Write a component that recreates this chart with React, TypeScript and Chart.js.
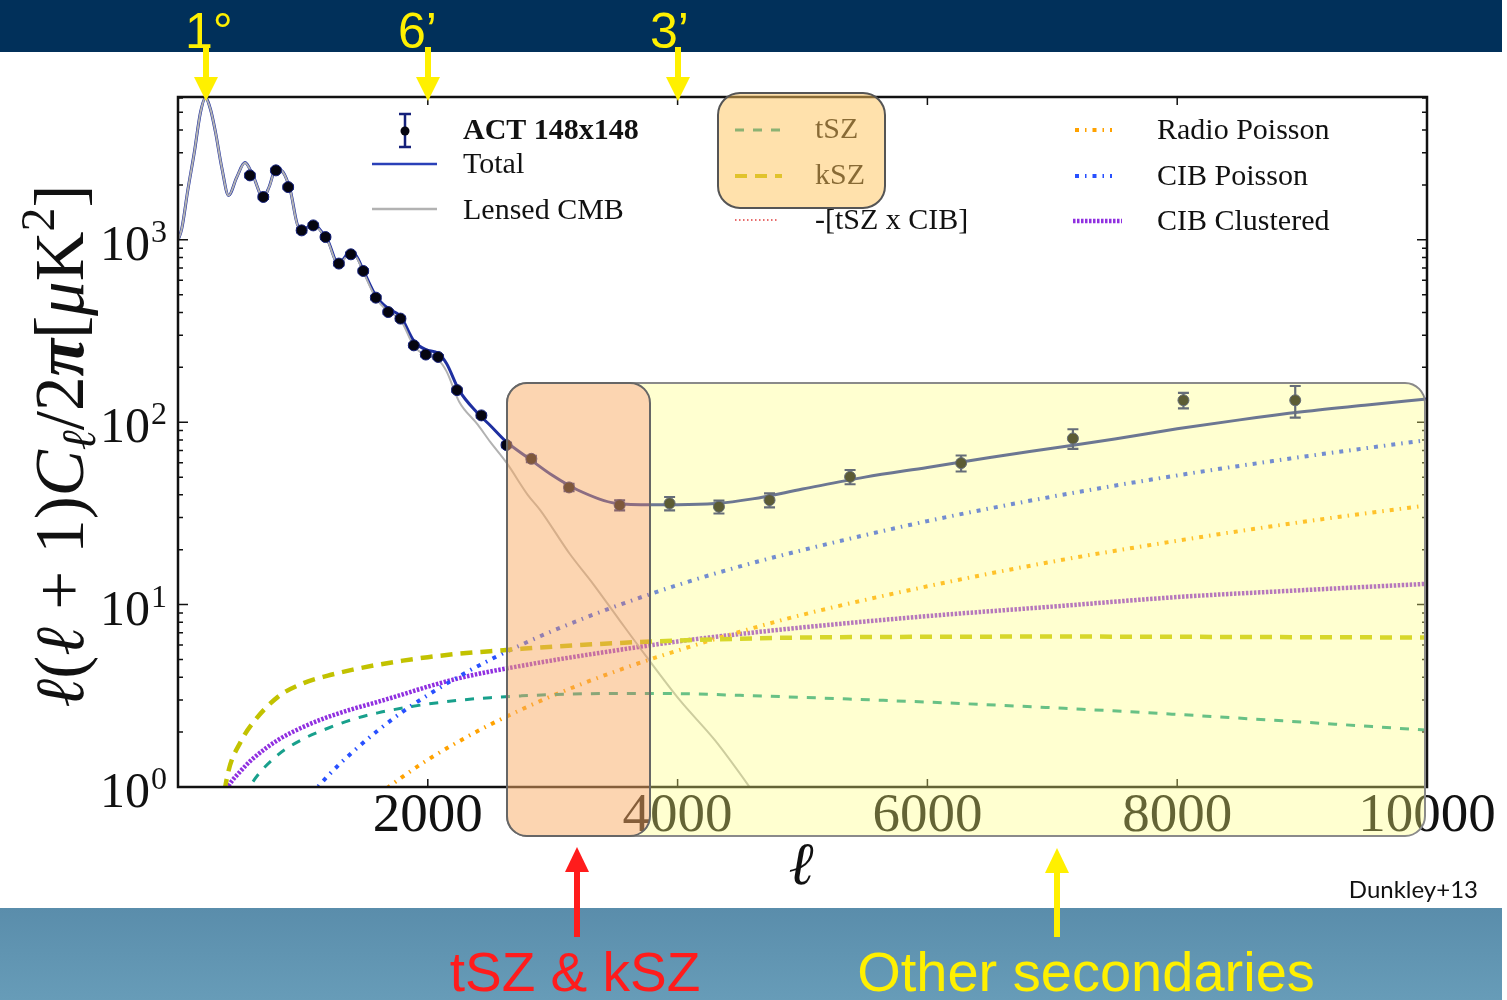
import React, { useEffect, useRef } from 'react';
import { Chart, registerables } from 'chart.js';

Chart.register(...registerables);

const W = 1507;
const H = 1000;

// ---------------- data ----------------
// ACT 148x148 band powers
const actEll = [576, 683, 784, 882, 990, 1083, 1181, 1288, 1384, 1483, 1584, 1683, 1781, 1888, 1984, 2083, 2234, 2429, 2630, 2829, 3131, 3536, 3936, 4331, 4736, 5381, 6270, 7165, 8050, 8945];
const actVal = [2256, 1718, 2404, 1947, 1127, 1200, 1036, 741, 833, 675, 482, 402, 370, 264, 235, 228, 150, 109, 75, 63, 43.9, 35.1, 35.9, 34.4, 37.4, 50.2, 59.7, 81.5, 132, 132];
const actErr = [55, 40, 55, 45, 28, 28, 24, 17, 19, 15, 11, 9, 8, 6, 5.5, 5.5, 3.5, 2.6, 2.0, 2.5, 2.0, 2.2, 3.0, 2.8, 3.3, 4.5, 6, 10, 13, 26];

// Lensed CMB
const cmbEll = [2, 30, 80, 130, 180, 220, 260, 300, 350, 405, 470, 536, 600, 683, 730, 784, 840, 900, 963, 1020, 1083, 1140, 1200, 1283, 1384, 1430, 1483, 1584, 1683, 1781, 1888, 1984, 2083, 2150, 2250, 2400, 2500, 2630, 2800, 2900, 3136, 3323, 3536, 3749, 4016, 4300, 4576, 4800];
const cmbVal = [1000, 1150, 1900, 3000, 5000, 6000, 5200, 3900, 2500, 1750, 2200, 2650, 2250, 1700, 1950, 2450, 2350, 1850, 1180, 1150, 1220, 1120, 980, 730, 850, 800, 670, 480, 405, 365, 262, 232, 220, 190, 130, 97, 78, 60, 40, 33, 19, 13, 8.2, 5.2, 3.0, 1.8, 1.0, 0.6];

// Total model
const totEll = [2, 30, 80, 130, 180, 220, 260, 300, 350, 405, 470, 536, 600, 683, 730, 784, 840, 900, 963, 1020, 1083, 1140, 1200, 1283, 1384, 1430, 1483, 1584, 1683, 1781, 1888, 1984, 2083, 2150, 2250, 2400, 2500, 2630, 2800, 3000, 3200, 3500, 3800, 4000, 4300, 4600, 5000, 5500, 6000, 6500, 7000, 7500, 8000, 8500, 9000, 9500, 10000];
const totVal = [1000, 1150, 1900, 3000, 5000, 6000, 5200, 3900, 2500, 1752, 2202, 2653, 2253, 1704, 1955, 2456, 2356, 1857, 1188, 1158, 1229, 1130, 990, 741, 862, 812, 683, 494, 420, 381, 279, 250, 239, 210, 150, 112, 96, 78, 64, 51, 42.5, 36, 35.3, 35.3, 35.8, 38, 43, 50, 56.5, 64, 72, 81, 92, 103, 114, 124, 134];

// Secondary components
const fgEll = [300, 400, 500, 600, 800, 1000, 1200, 1400, 1600, 1800, 2000, 2250, 2500, 2750, 3000, 3500, 4000, 4500, 5000, 6000, 7000, 8000, 9000, 10000];
const tszVal = [0.3, 0.5, 0.8, 1.07, 1.5, 1.83, 2.1, 2.35, 2.55, 2.71, 2.85, 2.99, 3.09, 3.16, 3.21, 3.26, 3.25, 3.18, 3.1, 2.92, 2.72, 2.5, 2.27, 2.05];
const kszVal = [0.45, 1.19, 1.76, 2.25, 3.12, 3.7, 4.08, 4.4, 4.68, 4.93, 5.15, 5.38, 5.55, 5.72, 5.88, 6.15, 6.35, 6.5, 6.6, 6.66, 6.68, 6.66, 6.63, 6.6];
const szCibVal = [0.05, 0.08, 0.12, 0.16, 0.22, 0.28, 0.33, 0.38, 0.42, 0.46, 0.5, 0.54, 0.57, 0.6, 0.62, 0.66, 0.68, 0.7, 0.71, 0.72, 0.72, 0.71, 0.7, 0.69];
const radioVal = [0.03, 0.055, 0.086, 0.124, 0.22, 0.35, 0.5, 0.68, 0.9, 1.14, 1.41, 1.78, 2.2, 2.66, 3.17, 4.3, 5.6, 7.1, 8.8, 12.6, 17.2, 22.4, 28.4, 35];
const cibPVal = [0.07, 0.13, 0.2, 0.29, 0.51, 0.8, 1.15, 1.56, 2.04, 2.59, 3.19, 4.04, 4.99, 6.03, 7.18, 9.77, 12.8, 16.2, 19.9, 28.7, 39.1, 51.1, 64.6, 79.8];
const cibCVal = [0.7, 1.0, 1.22, 1.43, 1.81, 2.13, 2.42, 2.68, 2.93, 3.22, 3.55, 3.95, 4.3, 4.62, 4.95, 5.6, 6.28, 6.9, 7.5, 8.65, 9.75, 11.0, 12.0, 13.0];

// axes
const xTicks = [2000, 4000, 6000, 8000, 10000];
const yTicks = [1, 10, 100, 1000];
const yTickExp = ['0', '1', '2', '3'];
const X_MIN = 0;
const X_MAX = 10000;
const Y_MIN = 1;
const Y_MAX = 6070;

// labels
const angleLabels = ['1°', '6’', '3’'];
const noteLabels = ['tSZ & kSZ', 'Other secondaries'];
const creditLabel = 'Dunkley+13';

// ---------------- styles ----------------
const C_TOTAL = '#1e2fa0';
const C_CMB = '#b2b2b2';
const C_TSZ = '#18a08c';
const C_KSZ = '#c2c200';
const C_SZCIB = '#e03c3c';
const C_RADIO = '#ffa200';
const C_CIBP = '#2850ff';
const C_CIBC = '#9030e0';
const DASH_TSZ = [9, 9];
const DASH_KSZ = [12, 8];
const DASH_SZCIB = [1.5, 2.5];
const DASH_PDOT = [4, 6, 1.5, 6];
const DASH_CIBC = [2.5, 1.5];

const SERIF = '"Liberation Serif", "Times New Roman", serif';
const SANS = '"Liberation Sans", Arial, sans-serif';

const pts = (xs: number[], ys: number[]) => xs.map((x, i) => ({ x, y: ys[i] }));

function rrPath(ctx: CanvasRenderingContext2D, x: number, y: number, w: number, h: number, r: number) {
  ctx.moveTo(x + r, y);
  ctx.lineTo(x + w - r, y);
  ctx.arcTo(x + w, y, x + w, y + r, r);
  ctx.lineTo(x + w, y + h - r);
  ctx.arcTo(x + w, y + h, x + w - r, y + h, r);
  ctx.lineTo(x + r, y + h);
  ctx.arcTo(x, y + h, x, y + h - r, r);
  ctx.lineTo(x, y + r);
  ctx.arcTo(x, y, x + r, y, r);
  ctx.closePath();
}

function sample(ctx: CanvasRenderingContext2D, x1: number, x2: number, y: number, color: string, width: number, dash: number[]) {
  ctx.save();
  ctx.strokeStyle = color;
  ctx.lineWidth = width;
  ctx.setLineDash(dash);
  ctx.lineCap = 'butt';
  ctx.beginPath();
  ctx.moveTo(x1, y);
  ctx.lineTo(x2, y);
  ctx.stroke();
  ctx.restore();
}

function text(ctx: CanvasRenderingContext2D, t: string, x: number, y: number, font: string, color: string, align: CanvasTextAlign = 'left', baseline: CanvasTextBaseline = 'alphabetic') {
  ctx.font = font;
  ctx.fillStyle = color;
  ctx.textAlign = align;
  ctx.textBaseline = baseline;
  ctx.fillText(t, x, y);
}

function downArrow(ctx: CanvasRenderingContext2D, x: number, y0: number, tip: number, color: string) {
  ctx.fillStyle = color;
  ctx.fillRect(x - 3, y0, 6, tip - 22 - y0);
  ctx.beginPath();
  ctx.moveTo(x - 12, tip - 24);
  ctx.lineTo(x + 12, tip - 24);
  ctx.lineTo(x, tip);
  ctx.closePath();
  ctx.fill();
}

function upArrow(ctx: CanvasRenderingContext2D, x: number, tip: number, y1: number, color: string) {
  ctx.fillStyle = color;
  ctx.fillRect(x - 3, tip + 22, 6, y1 - tip - 22);
  ctx.beginPath();
  ctx.moveTo(x - 12, tip + 25);
  ctx.lineTo(x + 12, tip + 25);
  ctx.lineTo(x, tip);
  ctx.closePath();
  ctx.fill();
}

const slidePlugin = {
  id: 'slide',
  beforeDraw(chart: any) {
    const ctx = chart.ctx as CanvasRenderingContext2D;
    ctx.save();
    ctx.fillStyle = '#ffffff';
    ctx.fillRect(0, 0, W, H);
    ctx.fillStyle = '#01305a';
    ctx.fillRect(0, 0, 1502, 52);
    const g = ctx.createLinearGradient(0, 908, 0, 1000);
    g.addColorStop(0, '#5a8dab');
    g.addColorStop(1, '#679cb8');
    ctx.fillStyle = g;
    ctx.fillRect(0, 908, 1502, 92);
    ctx.restore();
  },
  beforeDatasetDraw(chart: any, args: any) {
    if (chart.data.datasets[args.index].label !== 'ACT 148x148') return;
    const ctx = chart.ctx as CanvasRenderingContext2D;
    const xs = chart.scales.x, ys = chart.scales.y;
    ctx.save();
    ctx.strokeStyle = '#14207a';
    ctx.lineWidth = 2.2;
    actEll.forEach((l, i) => {
      const px = xs.getPixelForValue(l);
      const pHi = ys.getPixelForValue(actVal[i] + actErr[i]);
      const pLo = ys.getPixelForValue(actVal[i] - actErr[i]);
      ctx.beginPath();
      ctx.moveTo(px, pHi); ctx.lineTo(px, pLo);
      ctx.moveTo(px - 5.5, pHi); ctx.lineTo(px + 5.5, pHi);
      ctx.moveTo(px - 5.5, pLo); ctx.lineTo(px + 5.5, pLo);
      ctx.stroke();
    });
    ctx.restore();
  },
  afterDraw(chart: any) {
    const ctx = chart.ctx as CanvasRenderingContext2D;
    const { left, right, top, bottom } = chart.chartArea;
    const xs = chart.scales.x, ys = chart.scales.y;
    ctx.save();

    // inward ticks
    ctx.strokeStyle = '#111';
    ctx.lineWidth = 1.5;
    ctx.beginPath();
    xTicks.forEach((v) => {
      const px = xs.getPixelForValue(v);
      ctx.moveTo(px, bottom); ctx.lineTo(px, bottom - 8);
      ctx.moveTo(px, top); ctx.lineTo(px, top + 8);
    });
    for (let k = 0; k < 4; k++) {
      for (let m = 1; m < 10; m++) {
        const v = m * Math.pow(10, k);
        if (v > Y_MAX) break;
        const py = ys.getPixelForValue(v);
        const len = m === 1 ? 10 : 5;
        ctx.moveTo(left, py); ctx.lineTo(left + len, py);
        ctx.moveTo(right, py); ctx.lineTo(right - len, py);
      }
    }
    ctx.stroke();
    ctx.lineWidth = 2.5;
    ctx.strokeRect(left, top, right - left, bottom - top);

    // y tick labels (10^n)
    yTicks.forEach((v, i) => {
      const py = ys.getPixelForValue(v);
      text(ctx, '10', 150, py + 20, `50px ${SERIF}`, '#111', 'right');
      text(ctx, yTickExp[i], 151, py + 2, `32px ${SERIF}`, '#111', 'left');
    });

    // x title
    text(ctx, 'ℓ', 801, 884, `italic 60px ${SERIF}`, '#111', 'center');

    // y title
    const S = 69;
    const segs: [string, string, number][] = [
      ['ℓ', `italic ${S}px ${SERIF}`, 0],
      ['(', `${S}px ${SERIF}`, 0],
      ['ℓ', `italic ${S}px ${SERIF}`, 0],
      [' + ', `${S}px ${SERIF}`, 0],
      ['1)', `${S}px ${SERIF}`, 0],
      ['C', `italic ${S}px ${SERIF}`, 0],
      ['ℓ', `italic ${Math.round(S * 0.7)}px ${SERIF}`, S * 0.18],
      ['/2', `${S}px ${SERIF}`, 0],
      ['π', `bold italic ${S}px ${SERIF}`, 0],
      ['[', `${S}px ${SERIF}`, 0],
      ['μ', `italic ${S}px ${SERIF}`, 0],
      ['K', `${S}px ${SERIF}`, 0],
      ['2', `${Math.round(S * 0.7)}px ${SERIF}`, -S * 0.42],
      [']', `${S}px ${SERIF}`, 0],
    ];
    ctx.save();
    ctx.translate(83, 446);
    ctx.rotate(-Math.PI / 2);
    let total = 0;
    segs.forEach(([t, f]) => { ctx.font = f; total += ctx.measureText(t).width; });
    let cx = -total / 2;
    ctx.fillStyle = '#111';
    ctx.textAlign = 'left';
    ctx.textBaseline = 'alphabetic';
    segs.forEach(([t, f, dy]) => { ctx.font = f; ctx.fillText(t, cx, dy); cx += ctx.measureText(t).width; });
    ctx.restore();

    // legend
    const LF = `30px ${SERIF}`;
    ctx.strokeStyle = '#14207a';
    ctx.lineWidth = 2.5;
    ctx.beginPath();
    ctx.moveTo(405, 114); ctx.lineTo(405, 147);
    ctx.moveTo(399, 114); ctx.lineTo(411, 114);
    ctx.moveTo(399, 147); ctx.lineTo(411, 147);
    ctx.stroke();
    ctx.fillStyle = '#050510';
    ctx.beginPath(); ctx.arc(405, 131, 4.5, 0, Math.PI * 2); ctx.fill();
    text(ctx, 'ACT 148x148', 463, 131, `bold 30px ${SERIF}`, '#111', 'left', 'middle');
    sample(ctx, 372, 437, 164, '#2a40b8', 2.5, []);
    text(ctx, 'Total', 463, 165, LF, '#111', 'left', 'middle');
    sample(ctx, 372, 437, 209, C_CMB, 2.5, []);
    text(ctx, 'Lensed CMB', 463, 211, LF, '#111', 'left', 'middle');
    sample(ctx, 735, 782, 130, C_TSZ, 3, DASH_TSZ);
    text(ctx, 'tSZ', 815, 130, LF, '#111', 'left', 'middle');
    sample(ctx, 735, 782, 176, C_KSZ, 4, DASH_KSZ);
    text(ctx, 'kSZ', 815, 176, LF, '#111', 'left', 'middle');
    sample(ctx, 735, 778, 220, C_SZCIB, 1.5, DASH_SZCIB);
    text(ctx, '-[tSZ x CIB]', 815, 221, LF, '#111', 'left', 'middle');
    sample(ctx, 1075, 1112, 130, C_RADIO, 4, DASH_PDOT);
    text(ctx, 'Radio Poisson', 1157, 131, LF, '#111', 'left', 'middle');
    sample(ctx, 1075, 1112, 176, C_CIBP, 4, DASH_PDOT);
    text(ctx, 'CIB Poisson', 1157, 177, LF, '#111', 'left', 'middle');
    sample(ctx, 1073, 1122, 221, C_CIBC, 4.5, DASH_CIBC);
    text(ctx, 'CIB Clustered', 1157, 222, LF, '#111', 'left', 'middle');

    // highlight overlays
    const ob = { x: 507, y: 383, w: 143, h: 453, r: 20 };
    const yb = { x: 507, y: 383, w: 918, h: 453, r: 20 };
    ctx.save();
    ctx.beginPath();
    ctx.rect(0, 0, W, H);
    rrPath(ctx, ob.x, ob.y, ob.w, ob.h, ob.r);
    ctx.clip('evenodd');
    ctx.beginPath();
    rrPath(ctx, yb.x, yb.y, yb.w, yb.h, yb.r);
    ctx.fillStyle = 'rgba(255,255,120,0.35)';
    ctx.fill();
    ctx.strokeStyle = '#8a8a8a';
    ctx.lineWidth = 2;
    ctx.stroke();
    ctx.restore();
    ctx.beginPath();
    rrPath(ctx, ob.x, ob.y, ob.w, ob.h, ob.r);
    ctx.fillStyle = 'rgba(250,172,100,0.5)';
    ctx.fill();
    ctx.strokeStyle = '#666';
    ctx.lineWidth = 2;
    ctx.stroke();
    ctx.beginPath();
    rrPath(ctx, 718, 93, 167, 115, 22);
    ctx.fillStyle = 'rgba(255,196,90,0.5)';
    ctx.fill();
    ctx.strokeStyle = '#555';
    ctx.lineWidth = 2;
    ctx.stroke();

    // annotations
    const YEL = '#fff000';
    const RED = '#ff1c1c';
    [206, 428, 678].forEach((x) => downArrow(ctx, x, 47, 101, YEL));
    text(ctx, angleLabels[0], 185, 48, `50px ${SANS}`, YEL);
    text(ctx, angleLabels[1], 398, 48, `50px ${SANS}`, YEL);
    text(ctx, angleLabels[2], 650, 48, `50px ${SANS}`, YEL);
    upArrow(ctx, 577, 847, 937, RED);
    upArrow(ctx, 1057, 848, 937, YEL);
    text(ctx, noteLabels[0], 575, 991, `55px ${SANS}`, RED, 'center');
    text(ctx, noteLabels[1], 1086, 991, `56px ${SANS}`, YEL, 'center');
    text(ctx, creditLabel, 1478, 898, `24px Lato, ${SANS}`, '#111', 'right');

    ctx.restore();
  },
};

export default function App() {
  const ref = useRef<HTMLCanvasElement>(null);
  useEffect(() => {
    const line = (label: string, xs: number[], ys: number[], color: string, width: number, dash: number[], order: number) => ({
      label,
      data: pts(xs, ys),
      showLine: true,
      borderColor: color,
      backgroundColor: color,
      borderWidth: width,
      borderDash: dash,
      borderCapStyle: 'butt',
      pointRadius: 0,
      cubicInterpolationMode: 'monotone',
      fill: false,
      order,
    });
    const chart = new Chart(ref.current as HTMLCanvasElement, {
      type: 'scatter',
      data: {
        datasets: [
          {
            label: 'ACT 148x148',
            data: pts(actEll, actVal),
            showLine: false,
            pointRadius: 5.5,
            pointBackgroundColor: '#050510',
            pointBorderColor: '#14207a',
            pointBorderWidth: 1,
            order: 0,
          } as any,
          line('Lensed CMB', cmbEll, cmbVal, C_CMB, 2, [], 1),
          line('Total', totEll, totVal, C_TOTAL, 3, [], 2),
          line('tSZ', fgEll, tszVal, C_TSZ, 3, DASH_TSZ, 3),
          line('kSZ', fgEll, kszVal, C_KSZ, 4.5, DASH_KSZ, 3),
          line('-[tSZ x CIB]', fgEll, szCibVal, C_SZCIB, 1.5, DASH_SZCIB, 3),
          line('Radio Poisson', fgEll, radioVal, C_RADIO, 4, DASH_PDOT, 3),
          line('CIB Poisson', fgEll, cibPVal, C_CIBP, 4, DASH_PDOT, 3),
          line('CIB Clustered', fgEll, cibCVal, C_CIBC, 4.5, DASH_CIBC, 3),
        ],
      },
      options: {
        responsive: false,
        animation: false,
        events: [],
        layout: { padding: { left: 0, right: 80, top: 97, bottom: 0 } },
        plugins: { legend: { display: false }, tooltip: { enabled: false }, title: { display: false } },
        scales: {
          x: {
            type: 'linear',
            min: X_MIN,
            max: X_MAX,
            afterBuildTicks: (s: any) => { s.ticks = xTicks.map((v) => ({ value: v })); },
            afterFit: (s: any) => { s.height = H - 787; },
            grid: { display: false, drawTicks: false },
            border: { display: false },
            ticks: {
              color: '#111',
              font: { family: SERIF, size: 55 },
              padding: -3,
              maxRotation: 0,
              autoSkip: false,
              callback: (v: any) => String(v),
            },
          },
          y: {
            type: 'logarithmic',
            min: Y_MIN,
            max: Y_MAX,
            afterBuildTicks: (s: any) => { s.ticks = yTicks.map((v) => ({ value: v })); },
            afterFit: (s: any) => { s.width = 178; },
            grid: { display: false, drawTicks: false },
            border: { display: false },
            ticks: { display: false },
          },
        },
      } as any,
      plugins: [slidePlugin as any],
    });
    return () => chart.destroy();
  }, []);
  return (
    <div style={{ position: 'absolute', left: 0, top: 0, width: W, height: H, overflow: 'hidden' }}>
      <canvas ref={ref} width={W} height={H} style={{ display: 'block', width: W, height: H }} />
    </div>
  );
}
